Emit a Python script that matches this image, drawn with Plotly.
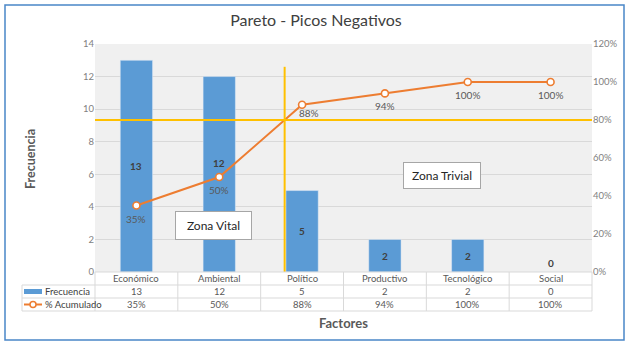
import plotly.graph_objects as go

# Pareto data
factores = ["Económico", "Ambiental", "Político", "Productivo", "Tecnológico", "Social"]
frecuencia = [13, 12, 5, 2, 2, 0]
acumulado = [0.35, 0.50, 0.88, 0.94, 1.00, 1.00]
y_ticks = [0, 2, 4, 6, 8, 10, 12, 14]
y2_ticks = [0, 0.2, 0.4, 0.6, 0.8, 1.0, 1.2]
corte = 0.80  # Pareto cut-off (80 %)

W, H = 632, 348
L, R, T, B = 95, 592, 44, 272  # plot area in pixels
Y_MAX, Y2_MAX = 14, 1.2
FONT = "Lato"
BLUE = "#5B9BD5"
ORANGE = "#ED7D31"
YELLOW = "#FFC000"
GRID = "#d9d9d9"
TXT = "#595959"


def px(xp):
    return (xp - L) / (R - L)


def py(yp):
    return (B - yp) / (B - T)


n = len(factores)
idx = list(range(n))
plot_h = B - T

fig = go.Figure()
fig.add_trace(go.Bar(
    x=idx, y=frecuencia, marker_color=BLUE, width=0.39,
    name="Frecuencia", hoverinfo="skip",
))
fig.add_trace(go.Scatter(
    x=idx, y=acumulado, yaxis="y2", mode="lines+markers",
    line=dict(color=ORANGE, width=2),
    marker=dict(symbol="circle", size=7, color="white",
                line=dict(color=ORANGE, width=1.6)),
    name="% Acumulado", hoverinfo="skip", cliponaxis=False,
))

annotations = []
shapes = []

# value labels inside bars, lifted when they would sit on a line marker
for i, v in enumerate(frecuencia):
    lab_px = (v / 2) / Y_MAX * plot_h
    mk_px = acumulado[i] / Y2_MAX * plot_h
    shift = 0
    if v == 0:
        shift = 9
    elif abs(lab_px - mk_px) < 12:
        shift = mk_px + 14 - lab_px
    annotations.append(dict(
        x=i, y=v / 2, xref="x", yref="y", text=f"<b>{v}</b>", showarrow=False,
        yshift=shift, xanchor="center", yanchor="middle",
        font=dict(family=FONT, size=10, color="#404040"),
    ))

# cumulative percentage labels under the markers (kept clear of the 80 % line)
cut_px = corte / Y2_MAX * plot_h
for i, v in enumerate(acumulado):
    mk_px = v / Y2_MAX * plot_h
    dy, dx = -13, 0
    if abs(mk_px + dy - cut_px) < 8:
        dy, dx = cut_px + 7 - mk_px, 7
    annotations.append(dict(
        x=i, y=v, xref="x", yref="y2", text=f"{v:.0%}", showarrow=False,
        yshift=dy, xshift=dx, xanchor="center", yanchor="middle",
        font=dict(family=FONT, size=10, color=TXT),
    ))

# 80 % cut: horizontal line and vertical line where the cumulative curve crosses it
shapes.append(dict(type="line", xref="paper", yref="y2", x0=0, x1=1,
                   y0=corte, y1=corte, line=dict(color=YELLOW, width=2)))
cruce = None
for i in range(1, n):
    if acumulado[i - 1] < corte <= acumulado[i]:
        cruce = (i - 1) + (corte - acumulado[i - 1]) / (acumulado[i] - acumulado[i - 1])
        break
shapes.append(dict(type="line", xref="x", yref="y", x0=cruce, x1=cruce,
                   y0=0, y1=12.6, line=dict(color=YELLOW, width=2)))

# zone text boxes
for text, xc, yc, w, h in [("Zona Vital", 213.5, 225.5, 71, 23),
                           ("Zona Trivial", 442, 175.5, 72, 21)]:
    annotations.append(dict(
        x=px(xc), y=py(yc), xref="paper", yref="paper", text=text,
        xanchor="center", yanchor="middle",
        showarrow=False, width=w, height=h, borderpad=2,
        bgcolor="white", bordercolor="#a6a6a6", borderwidth=1,
        font=dict(family=FONT, size=12, color="#262626"),
    ))

# data table under the chart
row_y = [272, 285, 298, 311]
tbl_left = 22
shapes.append(dict(type="line", xref="paper", yref="paper", x0=0, x1=1,
                   y0=py(row_y[0]), y1=py(row_y[0]), line=dict(color=GRID, width=1)))
for yy in row_y[1:]:
    shapes.append(dict(type="line", xref="paper", yref="paper", x0=px(tbl_left), x1=1,
                       y0=py(yy), y1=py(yy), line=dict(color=GRID, width=1)))
shapes.append(dict(type="line", xref="paper", yref="paper", x0=px(tbl_left), x1=px(tbl_left),
                   y0=py(row_y[1]), y1=py(row_y[3]), line=dict(color=GRID, width=1)))
for k in range(n + 1):
    shapes.append(dict(type="line", xref="paper", yref="paper", x0=k / n, x1=k / n,
                       y0=py(row_y[0]), y1=py(row_y[3]), line=dict(color=GRID, width=1)))

row_mid = [(row_y[j] + row_y[j + 1]) / 2 for j in range(3)]
rows = [factores, [str(v) for v in frecuencia], [f"{v:.0%}" for v in acumulado]]
for j, vals in enumerate(rows):
    for i, t in enumerate(vals):
        annotations.append(dict(
            x=i, y=py(row_mid[j]), xref="x", yref="paper", text=t, showarrow=False,
            xanchor="center", yanchor="middle",
            font=dict(family=FONT, size=9.5, color=TXT),
        ))

# legend keys in the table's first column
shapes.append(dict(type="rect", xref="paper", yref="paper",
                   x0=px(24), x1=px(42), y0=py(row_mid[1] + 2.5), y1=py(row_mid[1] - 2.5),
                   fillcolor=BLUE, line=dict(width=0)))
shapes.append(dict(type="line", xref="paper", yref="paper",
                   x0=px(24), x1=px(42), y0=py(row_mid[2]), y1=py(row_mid[2]),
                   line=dict(color=ORANGE, width=2)))
shapes.append(dict(type="circle", xref="paper", yref="paper",
                   x0=px(30), x1=px(36), y0=py(row_mid[2] + 3), y1=py(row_mid[2] - 3),
                   fillcolor="white", line=dict(color=ORANGE, width=1.5)))
for j, name in [(1, "Frecuencia"), (2, "% Acumulado")]:
    annotations.append(dict(
        x=px(43), y=py(row_mid[j]), xref="paper", yref="paper", text=name,
        xanchor="left", yanchor="middle", showarrow=False,
        font=dict(family=FONT, size=9.5, color="#404040"),
    ))

# axis titles
annotations.append(dict(
    x=px(30), y=py(159), xref="paper", yref="paper", text="<b>Frecuencia</b>",
    xanchor="center", yanchor="middle",
    textangle=-90, showarrow=False, font=dict(family=FONT, size=12.5, color=TXT),
))
annotations.append(dict(
    x=0.5, y=py(323), xref="paper", yref="paper", text="<b>Factores</b>",
    xanchor="center", yanchor="middle",
    showarrow=False, font=dict(family=FONT, size=13, color=TXT),
))

# outer frame
shapes.append(dict(type="rect", xref="paper", yref="paper",
                   x0=px(5), x1=px(624), y0=py(340), y1=py(5),
                   line=dict(color="#4a86c8", width=1.5), layer="below"))

fig.update_layout(
    width=W, height=H,
    margin=dict(l=L, r=W - R, t=T, b=H - B, pad=0),
    paper_bgcolor="white", plot_bgcolor="#f0f0f0",
    showlegend=False,
    title=dict(text="Pareto - Picos Negativos", x=0.5, xanchor="center",
               y=1 - 20 / H, yanchor="middle", xref="container",
               font=dict(family=FONT, size=16, color="#404040")),
    font=dict(family=FONT),
    xaxis=dict(range=[-0.5, n - 0.5], showticklabels=False, showgrid=False,
               zeroline=False, fixedrange=True),
    yaxis=dict(range=[0, Y_MAX], tickvals=y_ticks, showgrid=True, gridcolor=GRID,
               gridwidth=1, zeroline=False, ticks="",
               tickfont=dict(family=FONT, size=9.5, color="#7f7f7f")),
    yaxis2=dict(range=[0, Y2_MAX], tickvals=y2_ticks, tickformat=".0%", overlaying="y",
                side="right", showgrid=False, zeroline=False, ticks="",
                tickfont=dict(family=FONT, size=9.5, color="#7f7f7f")),
    annotations=annotations,
    shapes=shapes,
)

fig.write_html("out.html")
